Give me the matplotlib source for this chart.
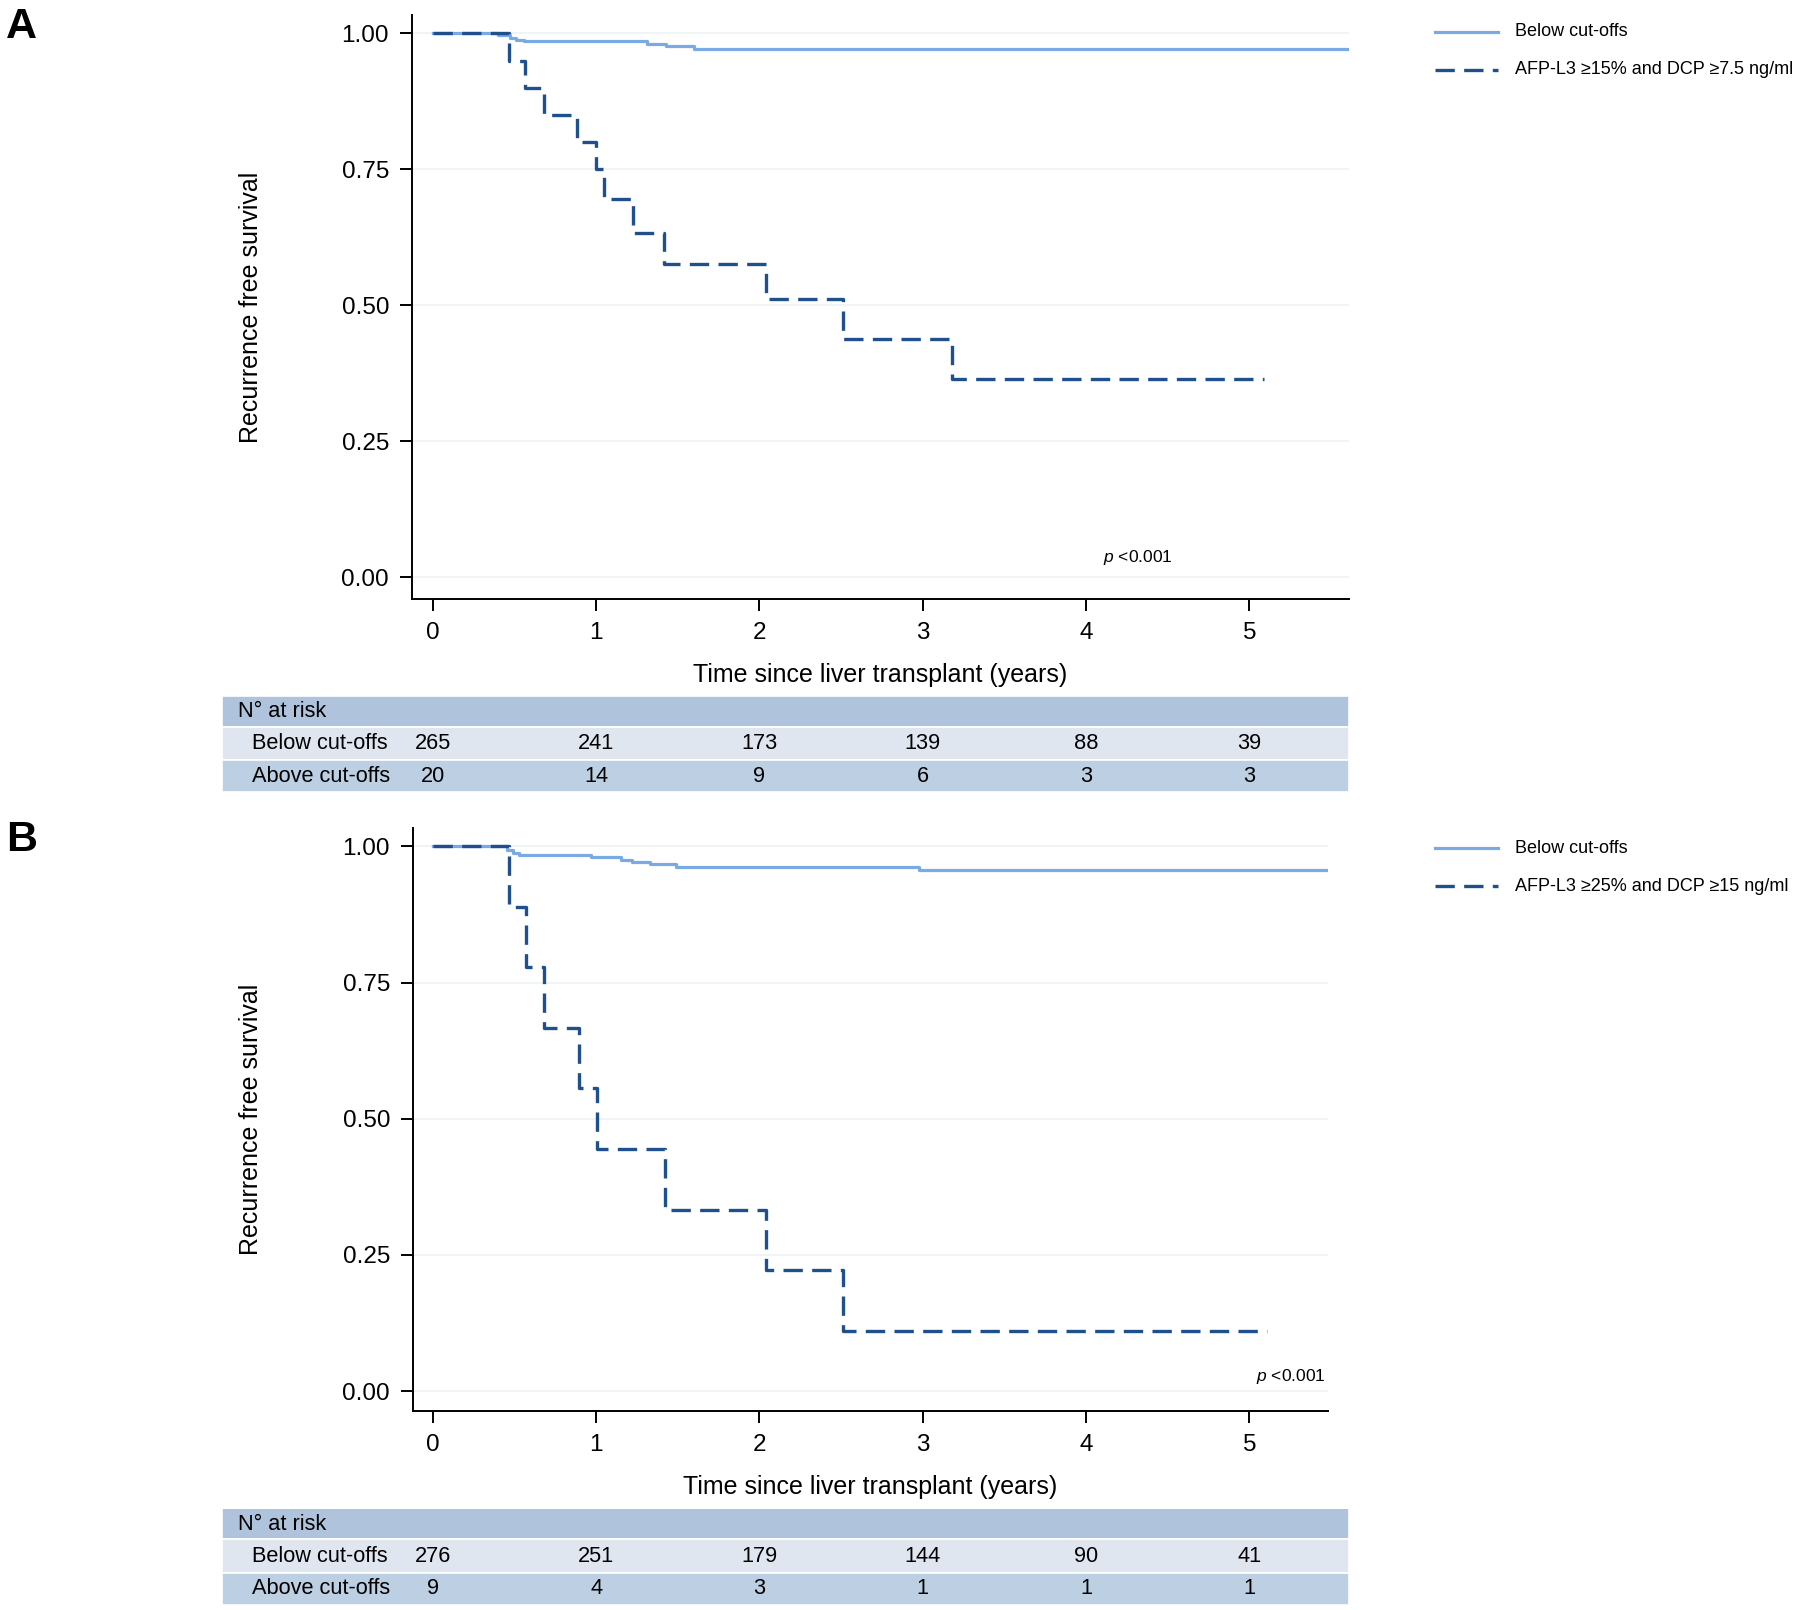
import matplotlib
matplotlib.use("Agg")
import matplotlib.pyplot as plt
from matplotlib.patches import Rectangle
from matplotlib.lines import Line2D

plt.rcParams['font.family'] = ['Liberation Sans', 'DejaVu Sans']
plt.rcParams['mathtext.fontset'] = 'custom'
plt.rcParams['mathtext.rm'] = 'Liberation Sans'
plt.rcParams['mathtext.it'] = 'Liberation Sans:italic'

# panel A: Kaplan-Meier steps (time in years, survival)
a_below_t = [0, 0.40, 0.47, 0.51, 0.56, 1.31, 1.43, 1.60]
a_below_s = [1.0, 0.996, 0.992, 0.988, 0.985, 0.980, 0.976, 0.972]
a_below_end = 5.61
a_above_t = [0, 0.467, 0.565, 0.681, 0.885, 0.998, 1.049, 1.228, 1.418, 2.04, 2.51, 3.18]
a_above_s = [1.0, 0.95, 0.90, 0.85, 0.80, 0.75, 0.696, 0.633, 0.576, 0.511, 0.438, 0.365]
a_above_end = 5.09

# panel B
b_below_t = [0, 0.455, 0.49, 0.53, 0.97, 1.15, 1.22, 1.33, 1.49, 2.98]
b_below_s = [1.0, 0.993, 0.988, 0.985, 0.981, 0.976, 0.971, 0.967, 0.962, 0.956]
b_below_end = 5.48
b_above_t = [0, 0.468, 0.571, 0.681, 0.893, 1.003, 1.421, 2.043, 2.514]
b_above_s = [1.0, 0.889, 0.778, 0.667, 0.556, 0.444, 0.333, 0.222, 0.111]
b_above_end = 5.11

risk_years = [0, 1, 2, 3, 4, 5]
a_risk_below = [265, 241, 173, 139, 88, 39]
a_risk_above = [20, 14, 9, 6, 3, 3]
b_risk_below = [276, 251, 179, 144, 90, 41]
b_risk_above = [9, 4, 3, 1, 1, 1]

yticks = [0, 0.25, 0.5, 0.75, 1.0]
legend_a = "AFP-L3 \u226515% and DCP \u22657.5 ng/ml"
legend_b = "AFP-L3 \u226525% and DCP \u226515 ng/ml"

light = '#7aaae4'
dark = '#1f4f8d'
grid_c = '#ebf1f1'
head_c = '#afc4dc'
row1_c = '#dfe6ef'
row2_c = '#bccfe3'

W, H = 1800, 1610
fig = plt.figure(figsize=(W / 100, H / 100), dpi=100)


def px_axes(x0, y0, x1, y1):
    return fig.add_axes([x0 / W, 1 - y1 / H, (x1 - x0) / W, (y1 - y0) / H])


def px_text(x, y, s, **kw):
    fig.text(x / W, 1 - y / H, s, **kw)


X0 = 432.8   # pixel of t=0
UNIT = 163.3  # pixels per year


def panel(box, one_y, zero_y, below, above, leg_label, leg_y, risk, table_y, ptxt, letter, letter_y):
    x0, y0, x1, y1 = box
    ax = px_axes(x0, y0, x1, y1)
    sc = zero_y - one_y
    ax.set_xlim((x0 - X0) / UNIT, (x1 - X0) / UNIT)
    ax.set_ylim((zero_y - y1) / sc, (zero_y - y0) / sc)
    for yv in yticks:
        ax.axhline(yv, color=grid_c, lw=1.1, zorder=0)
    bt, bs, be = below
    ax.step(bt + [be], bs + [bs[-1]], where='post', color=light, lw=2.3, zorder=2)
    at, as_, ae = above
    ax.step(at + [ae], as_ + [as_[-1]], where='post', color=dark, lw=2.4,
            linestyle=(0, (5.8, 2.8)), zorder=3)
    for s in ['top', 'right']:
        ax.spines[s].set_visible(False)
    for s in ['left', 'bottom']:
        ax.spines[s].set_linewidth(1.4)
    ax.set_xticks(risk_years)
    ax.set_yticks(yticks)
    ax.set_yticklabels([f"{v:.2f}" for v in yticks])
    ax.tick_params(length=8.5, width=1.4, labelsize=17.5, pad=8)
    ax.text(ptxt[0], ptxt[1], r'$p$ <0.001', fontsize=12.5, ha=ptxt[2], va='center')

    # axis labels
    px_text((x0 + x1) / 2, y1 + 76, "Time since liver transplant (years)",
            fontsize=18, ha='center', va='center')
    px_text(251, (y0 + y1) / 2, "Recurrence free survival", fontsize=18,
            rotation=90, ha='center', va='center')
    px_text(6, letter_y, letter, fontsize=31, fontweight='bold', ha='left', va='center')

    # legend
    lx0, lx1 = 1435, 1498
    fig.add_artist(Line2D([lx0 / W, lx1 / W], [1 - leg_y / H] * 2, color=light, lw=2.3))
    fig.add_artist(Line2D([lx0 / W, lx1 / W], [1 - (leg_y + 38) / H] * 2, color=dark,
                          lw=2.4, linestyle=(0, (5.8, 2.8))))
    px_text(1515, leg_y, "Below cut-offs", fontsize=13, va='center')
    px_text(1515, leg_y + 38, leg_label, fontsize=13, va='center')

    # number at risk table
    tx0, tx1 = 221.6, 1349
    r0, r1, r2, r3 = table_y
    tax = px_axes(tx0, r0, tx1, r3)
    tax.set_xlim((tx0 - X0) / UNIT, (tx1 - X0) / UNIT)
    tax.set_ylim(r3, r0)
    tax.axis('off')
    xl, xr = tax.get_xlim()
    for top, bot, c in [(r0, r1, head_c), (r1, r2, row1_c), (r2, r3, row2_c)]:
        tax.add_patch(Rectangle((xl, top), xr - xl, bot - top, facecolor=c,
                                edgecolor='white', lw=1.2))
    tax.text((238 - X0) / UNIT, (r0 + r1) / 2, "N\u00b0 at risk", fontsize=15.7, va='center')
    tax.text((252 - X0) / UNIT, (r1 + r2) / 2, "Below cut-offs", fontsize=15.7, va='center')
    tax.text((252 - X0) / UNIT, (r2 + r3) / 2, "Above cut-offs", fontsize=15.7, va='center')
    for yr, nb, na in zip(risk_years, risk[0], risk[1]):
        tax.text(yr, (r1 + r2) / 2, str(nb), fontsize=15.7, ha='center', va='center')
        tax.text(yr, (r2 + r3) / 2, str(na), fontsize=15.7, ha='center', va='center')
    return ax


panel((412, 15, 1349, 599.3), 33.3, 577.4,
      (a_below_t, a_below_s, a_below_end), (a_above_t, a_above_s, a_above_end),
      legend_a, 32, (a_risk_below, a_risk_above), (695.7, 726.7, 760, 792.5),
      (4.32, 0.036, 'center'), "A", 27)

panel((413, 828.5, 1328, 1411), 846.5, 1391,
      (b_below_t, b_below_s, b_below_end), (b_above_t, b_above_s, b_above_end),
      legend_b, 848, (b_risk_below, b_risk_above), (1508.5, 1539.5, 1572.8, 1605),
      (5.47, 0.026, 'right'), "B", 840)

fig.savefig("out.png", dpi=100)
